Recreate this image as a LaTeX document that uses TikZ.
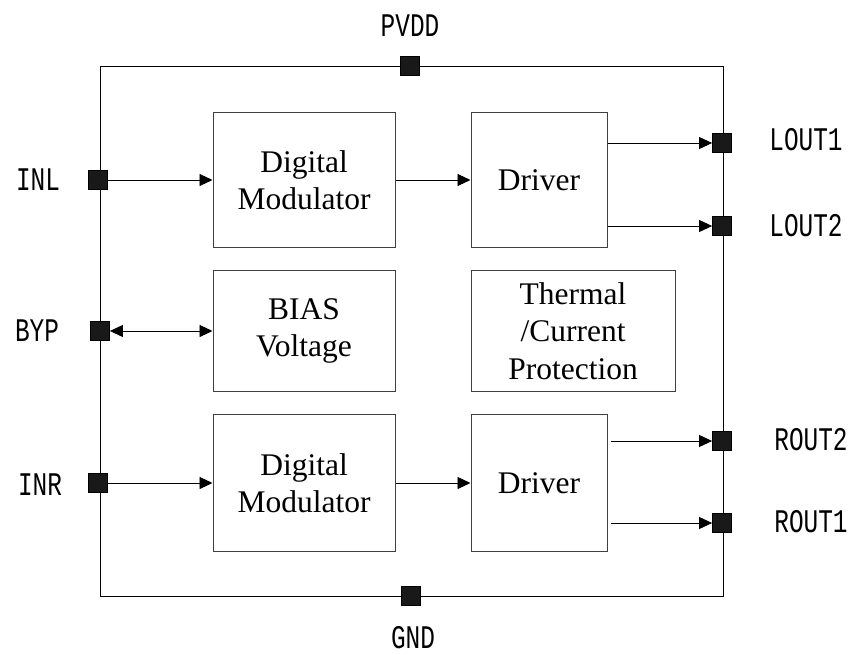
\documentclass[tikz,border=0pt]{standalone}
\usepackage{fontspec}
\usepackage{graphicx}
\setmainfont{Liberation Serif}
\newfontfamily\labfont{Liberation Mono}
\usetikzlibrary{arrows.meta}
\newcommand\pinlab[1]{\scalebox{0.74}[1]{\labfont\fontsize{33}{33}\selectfont #1}}
\begin{document}
\begin{tikzpicture}[x=1pt,y=-1pt,
  block/.style={draw=black!75, line width=1pt, align=center, inner sep=0pt,
    font=\fontsize{31.5}{37.5}\selectfont},
  pinbox/.style={draw=black, fill=black!90, minimum size=19pt, inner sep=0pt, line width=0.8pt},
  lab/.style={inner sep=0pt},
  arr/.style={line width=0.9pt, -{Triangle[length=13pt,width=12pt]}},
  darr/.style={line width=0.9pt, {Triangle[length=13pt,width=12pt]}-{Triangle[length=13pt,width=12pt]}},
  frame/.style={line width=1pt, draw=black}
]
\useasboundingbox (0,0) rectangle (851,655);
% outer frame
\draw[frame] (100,67) rectangle (723,596);
% blocks
\node[block, minimum width=182pt, minimum height=135pt] (dm1) at (304,180) {Digital\\Modulator};
\node[block, minimum width=136pt, minimum height=135pt] (drv1) at (539,180) {Driver};
\node[block, minimum width=182pt, minimum height=121pt] (bias) at (304,331) {BIAS\\Voltage};
\node[block, minimum width=204pt, minimum height=121pt] (therm) at (573,331) {Thermal\\/Current\\Protection};
\node[block, minimum width=182pt, minimum height=137pt] (dm2) at (304,483) {Digital\\Modulator};
\node[block, minimum width=136pt, minimum height=137pt] (drv2) at (539,483) {Driver};
% pins
\node[pinbox] (pvdd) at (410,66) {};
\node[pinbox] (gnd) at (411,596) {};
\node[pinbox] (inl) at (98,180) {};
\node[pinbox] (byp) at (100,331) {};
\node[pinbox] (inr) at (98,483) {};
\node[pinbox] (lout1) at (722,143) {};
\node[pinbox] (lout2) at (722,226) {};
\node[pinbox] (rout2) at (722,441) {};
\node[pinbox] (rout1) at (722,523) {};
% labels
\node[lab] (lpvdd) at (410,26) {\pinlab{PVDD}};
\node[lab] (lgnd) at (413,638) {\pinlab{GND}};
\node[lab] (linl) at (38,180) {\pinlab{INL}};
\node[lab] (lbyp) at (37,331) {\pinlab{BYP}};
\node[lab] (linr) at (40,485) {\pinlab{INR}};
\node[lab] (llout1) at (806,140) {\pinlab{LOUT1}};
\node[lab] (llout2) at (806,226) {\pinlab{LOUT2}};
\node[lab] (lrout2) at (811,440) {\pinlab{ROUT2}};
\node[lab] (lrout1) at (811,522) {\pinlab{ROUT1}};
% connectors
\draw[arr] (inl.east) -- (dm1.west |- inl);
\draw[arr] (dm1.east) -- (drv1.west);
\draw[arr] (drv1.east |- lout1) -- (lout1.west);
\draw[arr] (drv1.east |- lout2) -- (lout2.west);
\draw[darr] (byp.east) -- (bias.west |- byp);
\draw[arr] (inr.east) -- (dm2.west |- inr);
\draw[arr] (dm2.east) -- (drv2.west);
\draw[arr] ([xshift=3pt]drv2.east |- rout2) -- (rout2.west);
\draw[arr] ([xshift=3pt]drv2.east |- rout1) -- (rout1.west);
\end{tikzpicture}
\end{document}
